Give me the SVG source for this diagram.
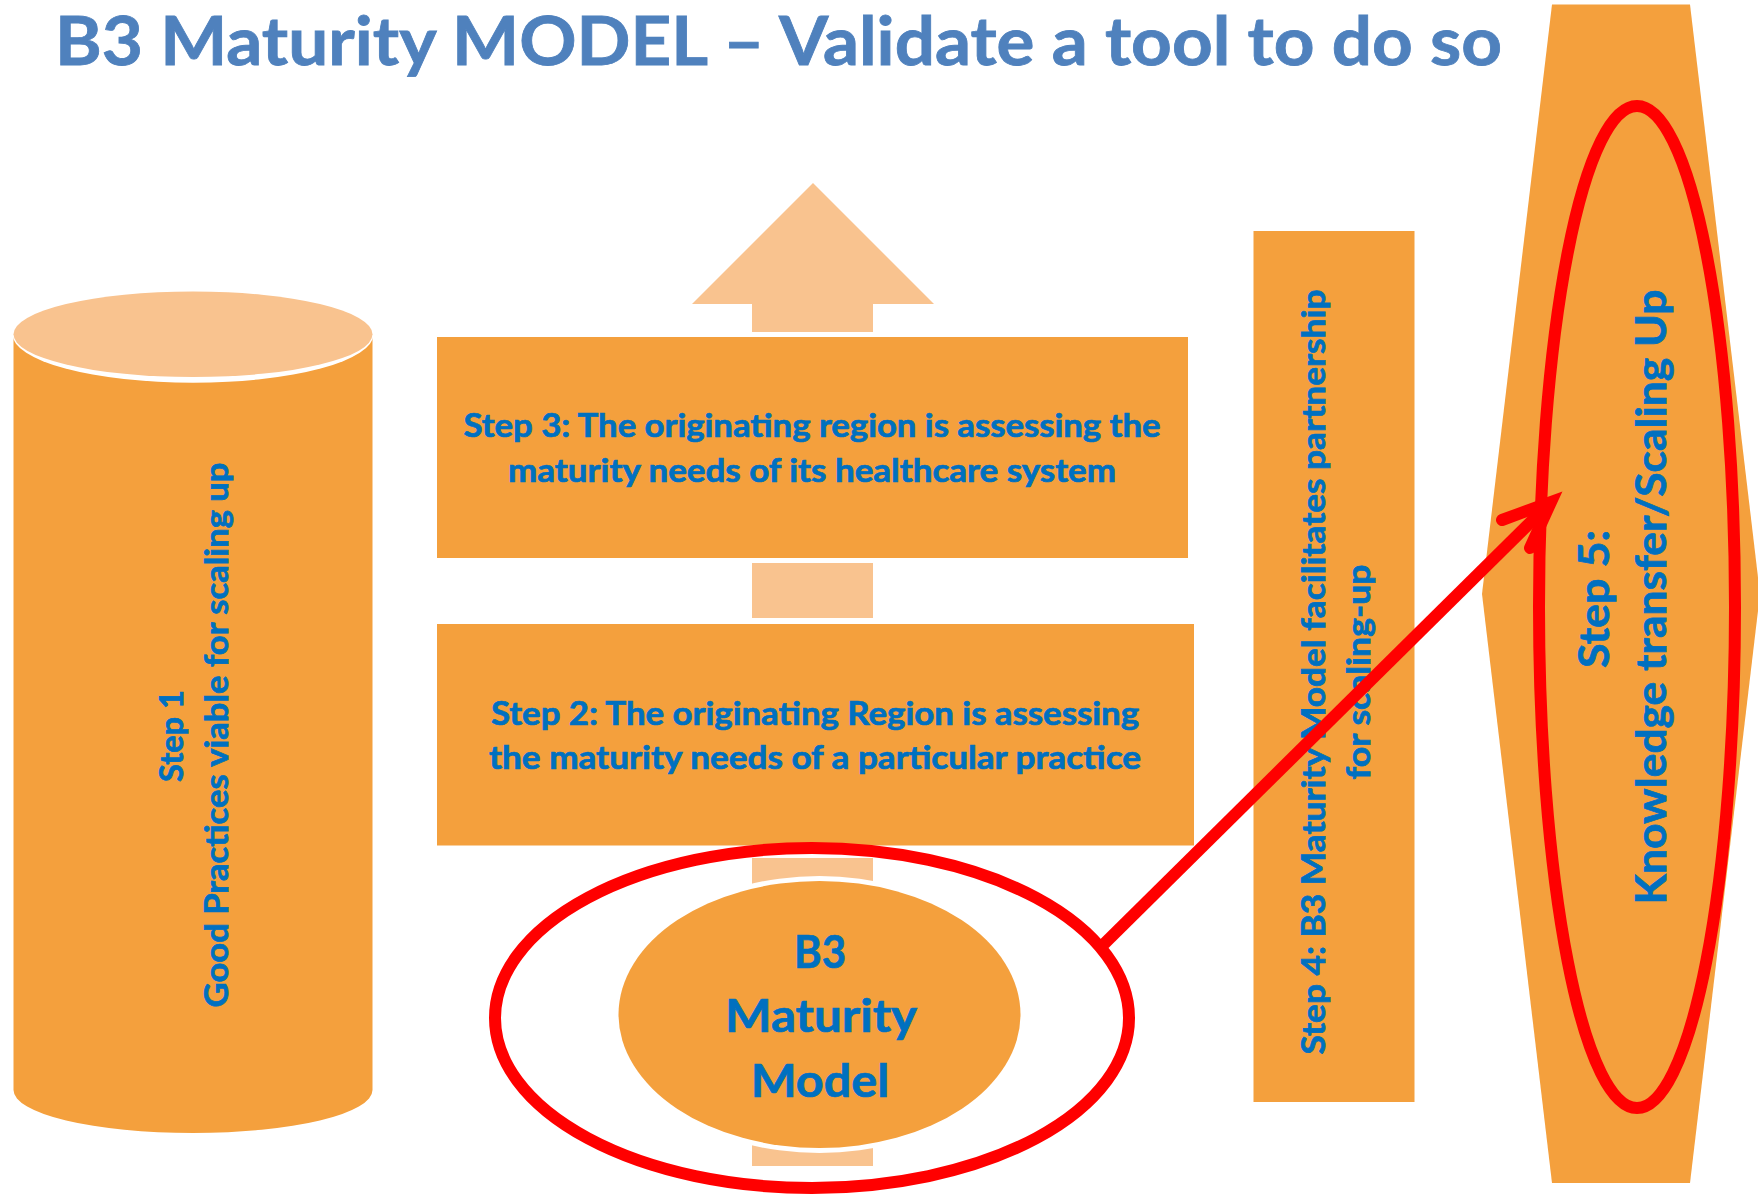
<svg xmlns="http://www.w3.org/2000/svg" width="1758" height="1194" viewBox="0 0 1758 1194">
<style>
  .fill { fill: #F4A03D; }
  .light { fill: #F9C38F; }
  .txt { font-family: Lato, "Open Sans", "Liberation Sans", sans-serif; font-weight: bold; fill: #0070C0; stroke: #0070C0; stroke-width: 0.7; text-anchor: middle; }
  .title { font-family: Lato, "Open Sans", "Liberation Sans", sans-serif; font-weight: bold; fill: #4F81BD; stroke: #4F81BD; stroke-width: 0.8; }
  .hl { fill: none; stroke: #FF0000; stroke-width: 12; }
</style>
<rect width="1758" height="1194" fill="#FFFFFF"/>
<text class="title" x="55" y="65" font-size="66" textLength="1447" lengthAdjust="spacingAndGlyphs">B3 Maturity MODEL – Validate a tool to do so</text>

<g id="connectors">
  <polygon class="light" points="813,183 934,304 873,304 873,332 752,332 752,304 692,304"/>
  <rect class="light" x="752" y="563" width="121" height="55"/>
  <rect class="light" x="752" y="858" width="121" height="308"/>
</g>

<g id="step1">
  <path class="fill" d="M13.5,334 L13.5,1090 A179.5,43 0 0 0 372.5,1090 L372.5,334 Z"/>
  <ellipse cx="193" cy="334.3" rx="180.5" ry="48.4" fill="#FFFFFF"/>
  <ellipse class="light" cx="193" cy="334.3" rx="179.5" ry="42.8"/>
  <text class="txt" font-size="32" transform="translate(183,736) rotate(-90)" textLength="92" lengthAdjust="spacingAndGlyphs">Step 1</text>
  <text class="txt" font-size="32" transform="translate(228,735) rotate(-90)" textLength="545" lengthAdjust="spacingAndGlyphs">Good Practices viable for scaling up</text>
</g>

<g id="step3">
  <rect class="fill" x="437" y="337" width="751" height="221"/>
  <text class="txt" font-size="32" x="812" y="437" textLength="697" lengthAdjust="spacingAndGlyphs">Step 3: The originating region is assessing the</text>
  <text class="txt" font-size="32" x="812" y="482" textLength="608" lengthAdjust="spacingAndGlyphs">maturity needs of its healthcare system</text>
</g>

<g id="step2">
  <rect class="fill" x="437" y="624" width="757" height="221.5"/>
  <text class="txt" font-size="32" x="815" y="725" textLength="648" lengthAdjust="spacingAndGlyphs">Step 2: The originating Region is assessing</text>
  <text class="txt" font-size="32" x="815" y="769" textLength="652" lengthAdjust="spacingAndGlyphs">the maturity needs of a particular practice</text>
</g>

<g id="b3-model">
  <ellipse cx="819.5" cy="1014.5" rx="206" ry="138.5" fill="#FFFFFF"/>
  <ellipse class="fill" cx="819.5" cy="1014.5" rx="201" ry="133.5"/>
  <text class="txt" font-size="46" x="820" y="968" textLength="52" lengthAdjust="spacingAndGlyphs">B3</text>
  <text class="txt" font-size="46" x="821" y="1032" textLength="192" lengthAdjust="spacingAndGlyphs">Maturity</text>
  <text class="txt" font-size="46" x="820" y="1096.5" textLength="138.5" lengthAdjust="spacingAndGlyphs">Model</text>
</g>

<g id="step4">
  <rect class="fill" x="1253.5" y="231" width="161" height="871"/>
  <text class="txt" font-size="32" transform="translate(1325,672) rotate(-90)" textLength="765" lengthAdjust="spacingAndGlyphs">Step 4: B3 Maturity Model facilitates partnership</text>
  <text class="txt" font-size="32" transform="translate(1370,672) rotate(-90)" textLength="215" lengthAdjust="spacingAndGlyphs">for scaling-up</text>
</g>

<g id="step5">
  <polygon class="fill" points="1552,4.5 1690,4.5 1760,594 1690,1183 1552,1183 1482,594"/>
  <text class="txt" font-size="42" transform="translate(1609,599) rotate(-90)" textLength="138" lengthAdjust="spacingAndGlyphs">Step 5:</text>
  <text class="txt" font-size="42" transform="translate(1666,597) rotate(-90)" textLength="615" lengthAdjust="spacingAndGlyphs">Knowledge transfer/Scaling Up</text>
</g>

<g id="highlights">
  <ellipse class="hl" cx="812" cy="1018" rx="317" ry="170"/>
  <ellipse class="hl" cx="1637" cy="607" rx="98" ry="501"/>
  <line class="hl" x1="1104" y1="944" x2="1549" y2="504"/>
  <polyline class="hl" points="1502,520 1551,502 1530,548" stroke-linecap="round" stroke-linejoin="miter"/>
</g>
</svg>
